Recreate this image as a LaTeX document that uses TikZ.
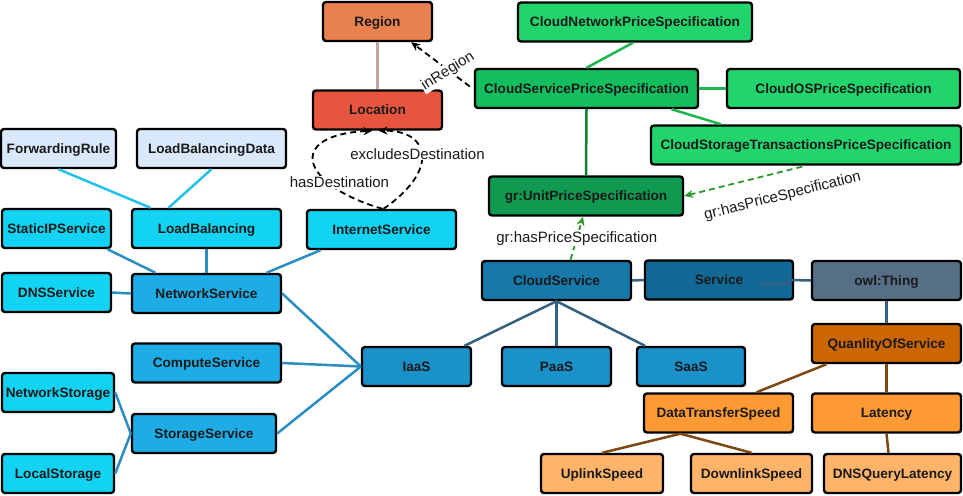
\documentclass[tikz,border=0pt]{standalone}
\usepackage{fontspec}
\setmainfont{Liberation Sans}
\usetikzlibrary{calc,arrows.meta}
\definecolor{cRegion}{HTML}{E9804F}
\definecolor{cLocation}{HTML}{E8553F}
\definecolor{cGreenL}{HTML}{22D46C}
\definecolor{cGreenM}{HTML}{12BE5E}
\definecolor{cGreenD}{HTML}{0F9A4F}
\definecolor{cPale}{HTML}{DAE8FC}
\definecolor{cCyan}{HTML}{12D3F2}
\definecolor{cBlueM}{HTML}{1DACE6}
\definecolor{cBlueI}{HTML}{1A91C8}
\definecolor{cCloud}{HTML}{1679AA}
\definecolor{cService}{HTML}{136995}
\definecolor{cThing}{HTML}{566E86}
\definecolor{cQoS}{HTML}{CC6600}
\definecolor{cOrange}{HTML}{FF9A35}
\definecolor{cOrangeL}{HTML}{FFB46A}
\definecolor{eRegion}{HTML}{C4A4A4}
\definecolor{eGreen}{HTML}{1BB64E}
\definecolor{eGreenD}{HTML}{0E7F32}
\definecolor{eCyan}{HTML}{22C2EA}
\definecolor{eBlue}{HTML}{2A8EC2}
\definecolor{eSlate}{HTML}{35607F}
\definecolor{eBrown}{HTML}{7F4710}
\definecolor{eGreenDash}{HTML}{2A9A2A}
\definecolor{txt}{HTML}{1A1A1A}
\begin{document}
\begin{tikzpicture}[x=1pt,y=-1pt,
  box/.style={draw=black, line width=2.4pt, rounded corners=3pt, minimum height=39pt, inner sep=0pt, text height=9.7pt, text depth=0pt, font=\fontsize{13.6}{15}\selectfont\bfseries, text=txt},
  lbl/.style={font=\fontsize{15}{17}\selectfont, text=txt, inner sep=1pt},
  conn/.style={line width=2.5pt},
  dasharrow/.style={line width=1.8pt, dash pattern=on 6pt off 4pt, -{Stealth[length=9pt,width=8pt]}}
]
\fill[white] (0,0) rectangle (963,495);
\useasboundingbox (0,0) rectangle (963,495);

% top middle
\node[box, fill=cRegion, minimum width=109pt] (region) at (377.5,21.5) {Region};
\node[box, fill=cLocation, minimum width=129pt] (location) at (377.5,110) {Location};
% price specs
\node[box, fill=cGreenL, minimum width=234pt] (cnps) at (635,22) {CloudNetworkPriceSpecification};
\node[box, fill=cGreenM, minimum width=223pt] (csps) at (586.5,88.5) {CloudServicePriceSpecification};
\node[box, fill=cGreenL, minimum width=233pt] (cosps) at (843.5,88.5) {CloudOSPriceSpecification};
\node[box, fill=cGreenL, minimum width=310pt] (cstps) at (806,145) {CloudStorageTransactionsPriceSpecification};
\node[box, fill=cGreenD, minimum width=194pt] (ups) at (586,196) {gr:UnitPriceSpecification};
% network cluster
\node[box, fill=cPale, minimum width=115pt] (fr) at (58.5,148.5) {ForwardingRule};
\node[box, fill=cPale, minimum width=149pt] (lbd) at (211.5,148.5) {LoadBalancingData};
\node[box, fill=cCyan, minimum width=109pt] (sip) at (56.5,228.5) {StaticIPService};
\node[box, fill=cCyan, minimum width=149pt] (lb) at (206.5,228.5) {LoadBalancing};
\node[box, fill=cCyan, minimum width=149pt] (inet) at (381.5,229.5) {InternetService};
\node[box, fill=cCyan, minimum width=109pt] (dns) at (56.5,292.5) {DNSService};
\node[box, fill=cBlueM, minimum width=149pt] (ns) at (206.5,293.5) {NetworkService};
\node[box, fill=cBlueM, minimum width=149pt] (cs) at (206.5,363) {ComputeService};
\node[box, fill=cCyan, minimum width=112pt] (nstor) at (58,392.5) {NetworkStorage};
\node[box, fill=cBlueM, minimum width=144pt] (ss) at (204,433.5) {StorageService};
\node[box, fill=cCyan, minimum width=112pt] (lstor) at (58,473.5) {LocalStorage};
% service cluster
\node[box, fill=cBlueI, minimum width=109pt] (iaas) at (416.5,366.5) {IaaS};
\node[box, fill=cBlueI, minimum width=109pt] (paas) at (556.5,366.5) {PaaS};
\node[box, fill=cBlueI, minimum width=108pt] (saas) at (691,366.5) {SaaS};
\node[box, fill=cCloud, minimum width=149pt] (cloud) at (556.5,280.5) {CloudService};
\node[box, fill=cService, minimum width=148pt] (service) at (719,280) {Service};
\node[box, fill=cThing, minimum width=149pt] (thing) at (886.5,280.5) {owl:Thing};
% QoS
\node[box, fill=cQoS, minimum width=149pt] (qos) at (886.5,343.5) {QuanlityOfService};
\node[box, fill=cOrange, minimum width=149pt] (dts) at (718.5,413) {DataTransferSpeed};
\node[box, fill=cOrange, minimum width=149pt] (lat) at (886.5,413) {Latency};
\node[box, fill=cOrangeL, minimum width=122pt] (up) at (602,473.5) {UplinkSpeed};
\node[box, fill=cOrangeL, minimum width=121pt] (down) at (751.5,473.5) {DownlinkSpeed};
\node[box, fill=cOrangeL, minimum width=137pt] (dnsq) at (892.5,473.5) {DNSQueryLatency};

% connectors
\draw[conn, eRegion] (region.south) -- (location.north);
\draw[conn, eGreen] ($(cnps.south)+(-2,0)$) -- (csps.north);
\draw[conn, eGreen] (csps.east) -- (cosps.west);
\draw[conn, eGreen] ($(csps.south)+(85,0)$) -- ($(cstps.north)+(-85,0)$);
\draw[conn, eGreenD] (csps.south) -- (ups.north);

\draw[conn, eCyan] (fr.south) -- ($(lb.north)+(-56,0)$);
\draw[conn, eCyan] (lbd.south) -- ($(lb.north)+(-38,0)$);
\draw[conn, eBlue] ($(sip.south)+(51,0)$) -- ($(ns.north)+(-51,0)$);
\draw[conn, eBlue] (lb.south) -- (ns.north);
\draw[conn, eBlue] ($(inet.south)+(-61,0)$) -- ($(ns.north)+(60,0)$);
\draw[conn, eBlue] (dns.east) -- (ns.west);
\draw[conn, eBlue] (ns.east) -- (iaas.west);
\draw[conn, eBlue] (cs.east) -- (iaas.west);
\draw[conn, eBlue] (ss.east) -- (iaas.west);
\draw[conn, eBlue] (nstor.east) -- (ss.west);
\draw[conn, eBlue] (lstor.east) -- (ss.west);

\draw[conn, eSlate] (cloud.south) -- ($(iaas.north)+(48,0)$);
\draw[conn, eSlate] (cloud.south) -- (paas.north);
\draw[conn, eSlate] (cloud.south) -- ($(saas.north)+(-46,0)$);
\draw[conn, eSlate] (cloud.east) -- (service.west);
\draw[conn, eSlate] ($(service.east)+(-34,4)$) -- ($(service.east)+(-8,4)$) -- ($(service.east)+(-4,0)$) -- (thing.west);
\draw[conn, eSlate] (thing.south) -- (qos.north);

\draw[conn, eBrown] ($(qos.south)+(-60,0)$) -- ($(dts.north)+(38,0)$);
\draw[conn, eBrown] (qos.south) -- (lat.north);
\draw[conn, eBrown] ($(dts.south)+(-38,0)$) -- (up.north);
\draw[conn, eBrown] ($(dts.south)+(-38,0)$) -- (down.north);
\draw[conn, eBrown] (lat.south) -- ($(dnsq.north)+(-4,0)$);

% dashed property arrows
\draw[dasharrow, black] ($(csps.west)+(-4,-2)$) -- node[lbl, rotate=32, fill=white, pos=0.4, yshift=-3pt] {inRegion} ($(region.south east)+(-22,0)$);
\draw[dasharrow, black] ($(inet.north)+(1,0)$) .. controls (300,185) and (285,135) .. node[lbl, fill=white, pos=0.3, xshift=12pt, yshift=0pt] {hasDestination} ($(location.south)+(-5,0)$);
\draw[dasharrow, black] ($(inet.north)+(2,0)$) .. controls (440,170) and (430,130) .. node[lbl, fill=white, pos=0.5, xshift=-4pt, yshift=1pt] {excludesDestination} ($(location.south)+(1,0)$);
\draw[dasharrow, eGreenDash, {Stealth[length=9pt,width=8pt]}-] (ups.east) -- node[lbl, sloped, below=15pt, pos=0.76] {gr:hasPriceSpecification} (cstps.south);
\draw[dasharrow, eGreenDash] ($(cloud.north)+(14,0)$) -- node[lbl, fill=white, pos=0.5] {gr:hasPriceSpecification} ($(ups.south)+(-3,0)$);
\end{tikzpicture}
\end{document}
